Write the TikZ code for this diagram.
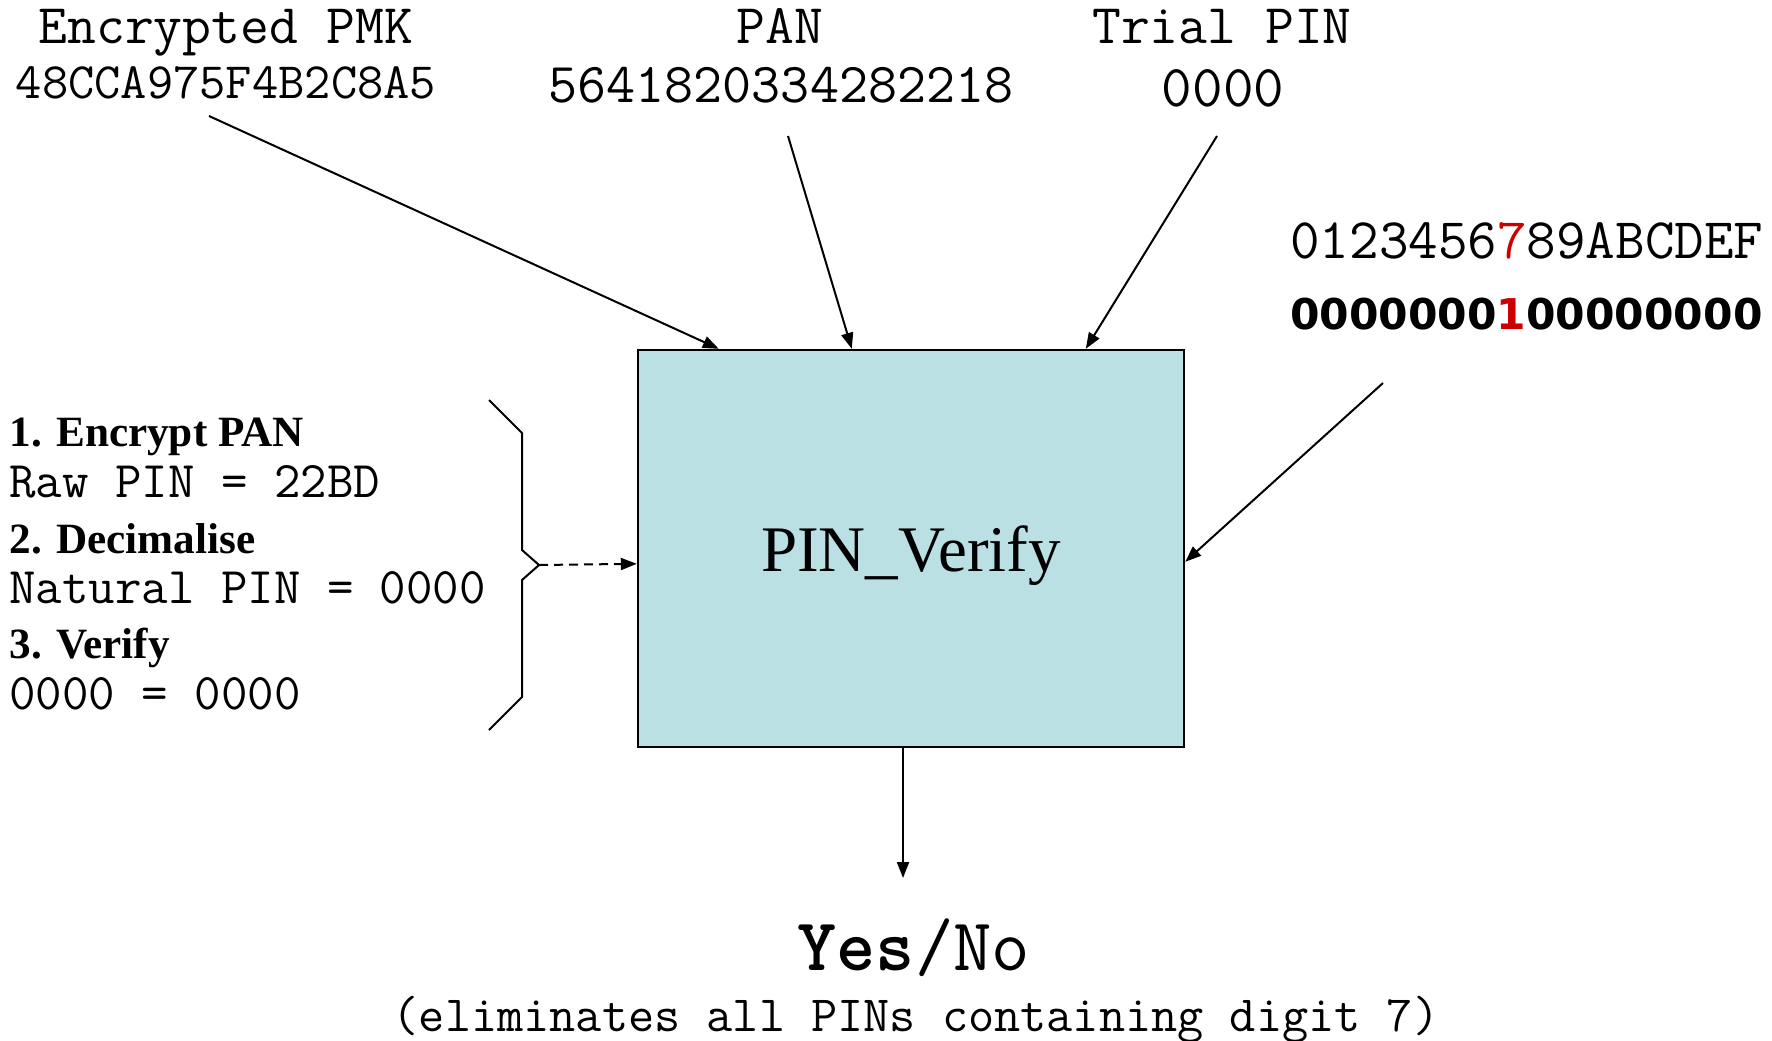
\documentclass[tikz,border=0pt]{standalone}
\usepackage{fontspec}
\setmainfont{Liberation Serif}
\newfontfamily\digitsans{DejaVu Sans}
\usetikzlibrary{arrows.meta,calc}
\definecolor{pinred}{RGB}{204,0,0}
\definecolor{boxfill}{RGB}{187,224,227}
\newcommand\mysize[1]{\fontsize{#1pt}{#1pt}\selectfont}
\tikzset{
  txt/.style={inner sep=0pt, anchor=base},
  txtw/.style={inner sep=0pt, anchor=base west},
  feed/.style={line width=1pt, -{Triangle[length=8pt,width=6pt]}},
  fnbox/.style={draw, line width=1.2pt, fill=boxfill, inner sep=0pt,
    minimum width=273pt, minimum height=198.5pt, font=\mysize{32.5}}
}
\begin{document}
\begin{tikzpicture}[x=0.5pt,y=-0.5pt]
\useasboundingbox (0,0) rectangle (1772,1040);

% inputs along the top
\node[txt, font=\mysize{28}\ttfamily] (pmk) at (226,43) {Encrypted PMK};
\node[txt, font=\mysize{25.5}\ttfamily] (pmkval) at (226,98) {48CCA975F4B2C8A5};
\node[txt, font=\mysize{28}\ttfamily] (pan) at (780,43) {PAN};
\node[txt, font=\mysize{28.2}\ttfamily] (panval) at (781,102) {5641820334282218};
\node[txt, font=\mysize{28}\ttfamily] (trial) at (1222,43) {Trial PIN};
\node[txt, font=\mysize{29.7}\ttfamily] (trialval) at (1223,106) {0000};

% decimalisation table
\node[txtw, font=\mysize{28.7}\ttfamily] (hex) at (1290,258)
  {0123456\textcolor{pinred}{7}89ABCDEF};
\node[txtw, font=\mysize{21.2}\digitsans\bfseries] (dectab) at (1290,329)
  {0000000\textcolor{pinred}{1}00000000};

% the verification function
\node[fnbox] (box) at (911,548.5) {\raisebox{-3.5pt}[\height][\depth]{PIN\_Verify}};

% steps performed inside the function
\node[txtw, font=\mysize{21.6}\bfseries] (s1) at (9,446) {1. Encrypt PAN};
\node[txtw, font=\mysize{25.7}\ttfamily] (s1v) at (9,497) {Raw PIN = 22BD};
\node[txtw, font=\mysize{21.6}\bfseries] (s2) at (9,553) {2. Decimalise};
\node[txtw, font=\mysize{25.7}\ttfamily] (s2v) at (9,603) {Natural PIN = 0000};
\node[txtw, font=\mysize{21.6}\bfseries] (s3) at (9,658) {3. Verify};
\node[txtw, font=\mysize{25.7}\ttfamily] (s3v) at (9,709) {0000 = 0000};

% result
\node[txt, font=\mysize{37.3}\ttfamily] (result) at (914,970) {\textbf{Yes}/No};
\node[txt, font=\mysize{25.4}\ttfamily] (note) at (916,1031)
  {(eliminates all PINs containing digit 7)};

% curly brace grouping the steps
\coordinate (bt) at (489,400);
\coordinate (tip) at (539,565);
\coordinate (bb) at (489,730);
\draw[line width=1pt, line join=miter] (bt) -- (522,433) -- (522,550) -- (tip)
  -- (522,580) -- (522,697) -- (bb);

% arrow start points below the labels
\coordinate (pmkfoot) at (209,116);
\coordinate (panfoot) at (788,136);
\coordinate (trialfoot) at (1217,136);
\coordinate (decfoot) at (1383,383);
\coordinate (resulthead) at (903,878);

% connectors
\draw[feed] (pmkfoot) -- ($(box.north west)+(82,0)$);
\draw[feed] (panfoot) -- ($(box.north west)+(215,0)$);
\draw[feed] (trialfoot) -- ($(box.north west)+(449,0)$);
\draw[feed] (decfoot) -- ($(box.north east)+(0,213)$);
\draw[feed, dash pattern=on 4.5pt off 3pt] (tip) -- ($(box.north west)+(0,215)$);
\draw[feed] ($(box.south)+(-8,0)$) -- (resulthead);
\end{tikzpicture}
\end{document}
